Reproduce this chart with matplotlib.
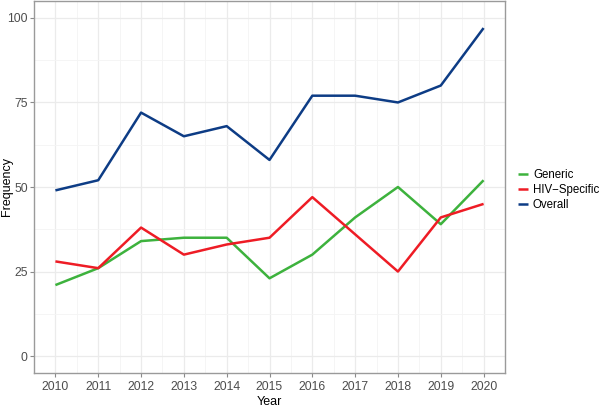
import numpy as np
import matplotlib
matplotlib.use('Agg')
import matplotlib.pyplot as plt
from matplotlib.ticker import MultipleLocator

plt.rcParams['font.family'] = ['Liberation Sans', 'DejaVu Sans']

# Dados
anos = [2010, 2011, 2012, 2013, 2014, 2015, 2016, 2017, 2018, 2019, 2020]
generic = [21, 26, 34, 35, 35, 23, 30, 41, 50, 39, 52]
hiv_specific = [28, 26, 38, 30, 33, 35, 47, 36, 25, 41, 45]
overall = [49, 52, 72, 65, 68, 58, 77, 77, 75, 80, 97]

series = ['Generic', 'HIV\u2212Specific', 'Overall']
cores = ['#3DB23D', '#EE1C25', '#0D3C85']

fig = plt.figure(figsize=(6.0, 4.07), dpi=100)
ax = fig.add_axes([34 / 600, 1 - 373 / 407, (505 - 34) / 600, 372 / 407])

for valores, nome, cor in zip([generic, hiv_specific, overall], series, cores):
    ax.plot(anos, valores, color=cor, lw=1.8, label=nome, solid_capstyle='butt')

ax.set_xlim(2009.5, 2020.5)
ax.set_ylim(-5, 105)
ax.set_xticks(anos)
ax.set_yticks([0, 25, 50, 75, 100])
ax.xaxis.set_minor_locator(MultipleLocator(0.5))
ax.yaxis.set_minor_locator(MultipleLocator(12.5))

# Grade no estilo ggplot
ax.grid(which='major', color='#EBEBEB', lw=0.9)
ax.grid(which='minor', color='#F4F4F4', lw=0.6)
ax.set_axisbelow(True)

for lado in ax.spines.values():
    lado.set_color('#9A9A9A')
    lado.set_linewidth(1.0)

ax.tick_params(which='major', length=3, color='#8A8A8A', labelsize=8.8,
               labelcolor='#4D4D4D', pad=3)
ax.tick_params(axis='y', pad=1.5)
ax.tick_params(which='minor', length=0)

ax.set_xlabel('Year', fontsize=9, labelpad=2)
ax.set_ylabel('Frequency', fontsize=9)
ax.yaxis.set_label_coords(-21 / 471, 0.5)

leg = fig.legend(loc='center left', bbox_to_anchor=(511 / 600, 1 - 190 / 407),
                 frameon=False, fontsize=8.3, handlelength=0.9,
                 handletextpad=0.4, labelspacing=0.25, borderaxespad=0.2)
for linha in leg.get_lines():
    linha.set_linewidth(1.8)

fig.savefig('out.png', dpi=100)
